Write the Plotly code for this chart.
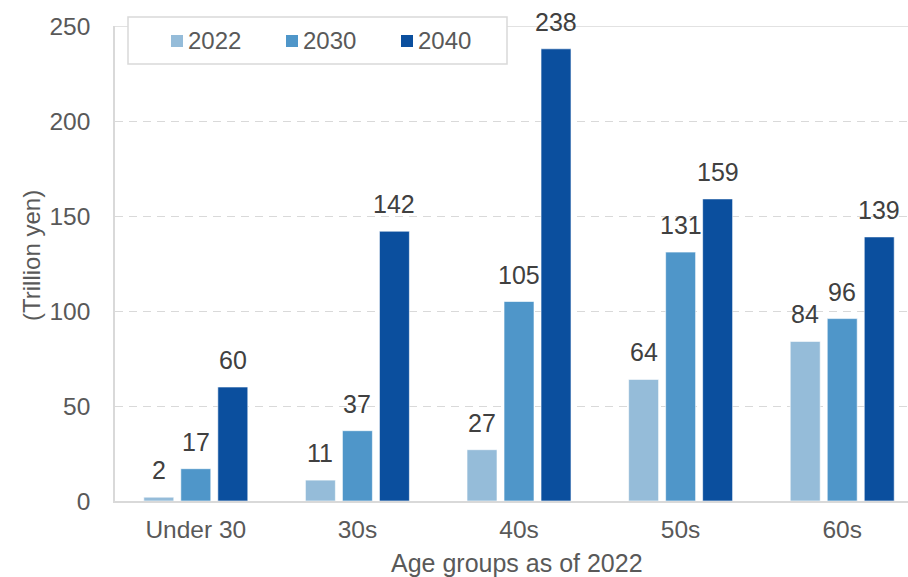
import plotly.graph_objects as go

categories = ["Under 30", "30s", "40s", "50s", "60s"]
series_names = ["2022", "2030", "2040"]
values_2022 = [2, 11, 27, 64, 84]
values_2030 = [17, 37, 105, 131, 96]
values_2040 = [60, 142, 238, 159, 139]
y_ticks = [0, 50, 100, 150, 200, 250]

colors = ["#95bcd9", "#4f96c9", "#0b4f9e"]
all_values = [values_2022, values_2030, values_2040]

FONT = "Liberation Sans, Arial, sans-serif"
TXT = "#595959"

# plot-area geometry (pixels) for placing decorations
W, H = 908, 577
L, R, T, B = 115, 0, 26, 76
PW, PH = W - L - R, H - T - B


def px_x(p):
    return (p - L) / PW


def px_y(p):
    return (H - B - p) / PH


fig = go.Figure()
for name, vals, col in zip(series_names, all_values, colors):
    fig.add_trace(go.Bar(
        x=categories, y=vals, name=name, showlegend=False,
        marker=dict(color=col, line=dict(color="rgba(255,255,255,0.6)", width=1)),
    ))

# data labels
offsets = [-37, 0, 37]
for vals, dx in zip(all_values, offsets):
    for c, v in zip(categories, vals):
        fig.add_annotation(x=c, y=v, text=str(v), showarrow=False,
                           xshift=dx, yshift=11, yanchor="bottom",
                           font=dict(family=FONT, size=25, color="#404040"))

# top (250) solid gridline
fig.add_shape(type="line", xref="paper", x0=0, x1=1, yref="y", y0=250, y1=250,
              line=dict(color="#d9d9d9", width=1.5), layer="below")

# y-axis title
fig.add_annotation(xref="paper", yref="paper", x=px_x(32), y=px_y(256),
                   text="(Trillion yen)", textangle=-90, showarrow=False,
                   xanchor="center", yanchor="middle",
                   font=dict(family=FONT, size=24, color=TXT))

# x-axis title
fig.add_annotation(xref="paper", yref="paper", x=px_x(517), y=px_y(563),
                   text="Age groups as of 2022", showarrow=False,
                   xanchor="center", yanchor="middle",
                   font=dict(family=FONT, size=25, color=TXT))

# legend (drawn manually)
fig.add_shape(type="rect", xref="paper", yref="paper",
              x0=px_x(128), x1=px_x(507), y0=px_y(17), y1=px_y(64),
              line=dict(color="#d9d9d9", width=1.5), fillcolor="white", layer="above")
leg_sq_x = [171, 286, 401]
for name, col, sx in zip(series_names, colors, leg_sq_x):
    fig.add_shape(type="rect", xref="paper", yref="paper",
                  x0=px_x(sx), x1=px_x(sx + 12), y0=px_y(35), y1=px_y(47),
                  line=dict(width=0), fillcolor=col, layer="above")
    fig.add_annotation(xref="paper", yref="paper", x=px_x(sx + 15), y=px_y(41),
                       text=name, showarrow=False, xanchor="left", yanchor="middle",
                       font=dict(family=FONT, size=24, color=TXT))

fig.update_layout(
    width=W, height=H,
    margin=dict(l=L, r=R, t=T, b=B),
    paper_bgcolor="white", plot_bgcolor="white",
    barmode="group", bargap=0.313, bargroupgap=0.19,
    font=dict(family=FONT, size=24, color=TXT),
    showlegend=False,
    xaxis=dict(range=[-0.5, 4.407], showline=True, linecolor="#d9d9d9", linewidth=1.5,
               ticks="outside", ticklen=6, tickcolor="rgba(0,0,0,0)",
               tickfont=dict(family=FONT, size=24.5, color=TXT)),
    yaxis=dict(range=[0, 250], tickvals=y_ticks, showline=True, linecolor="#d9d9d9",
               linewidth=1.5, showgrid=True, gridcolor="#d9d9d9", gridwidth=1.2,
               griddash="8px,6px", zeroline=False,
               ticks="outside", ticklen=18, tickcolor="rgba(0,0,0,0)",
               tickfont=dict(family=FONT, size=24.5, color=TXT)),
)

fig.write_html("out.html")
